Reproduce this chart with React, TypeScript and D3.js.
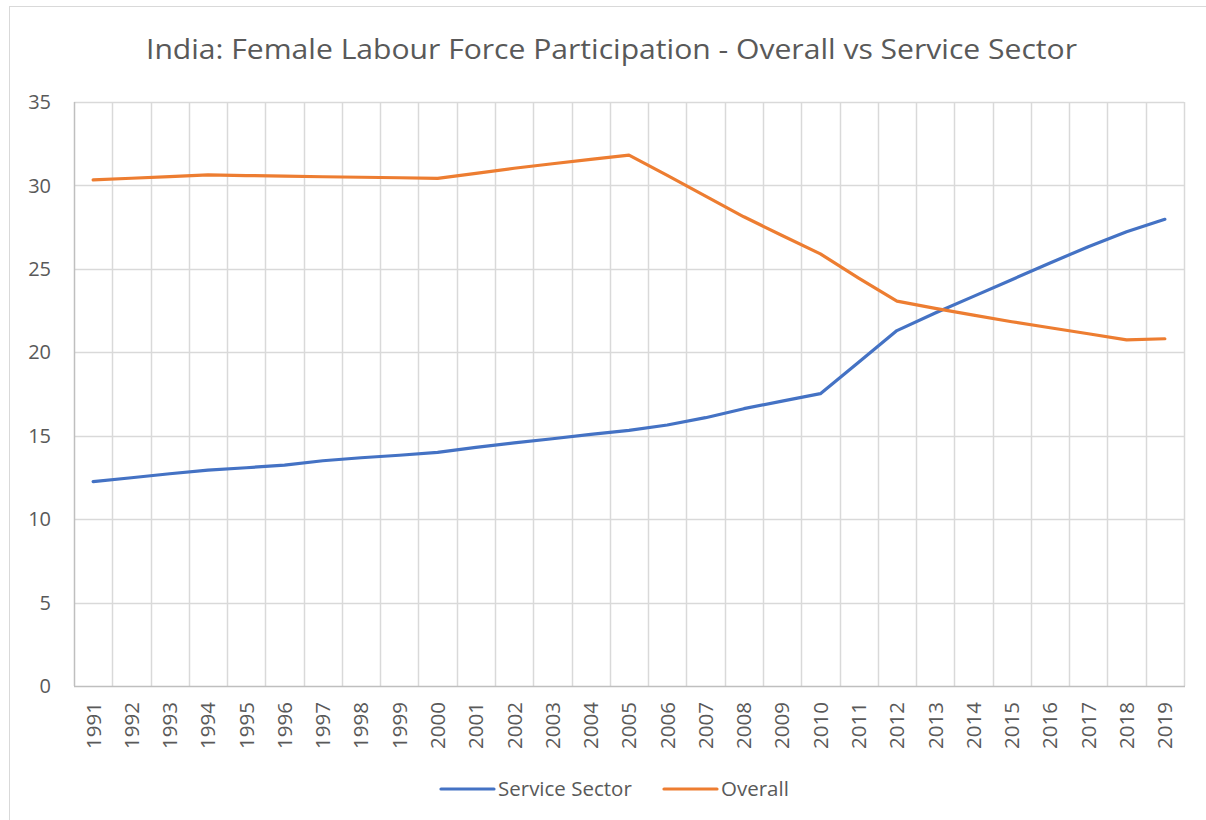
import React, { useEffect, useRef } from "react";
import * as d3 from "d3";

const years = [
  "1991", "1992", "1993", "1994", "1995", "1996", "1997", "1998", "1999", "2000",
  "2001", "2002", "2003", "2004", "2005", "2006", "2007", "2008", "2009", "2010",
  "2011", "2012", "2013", "2014", "2015", "2016", "2017", "2018", "2019",
];

const serviceSector = [
  12.25, 12.48, 12.72, 12.94, 13.08, 13.24, 13.5, 13.68, 13.83, 14.0,
  14.3, 14.57, 14.82, 15.08, 15.32, 15.64, 16.08, 16.62, 17.07, 17.52,
  19.4, 21.3, 22.35, 23.35, 24.35, 25.35, 26.33, 27.22, 27.97,
];

const overall = [
  30.33, 30.43, 30.53, 30.63, 30.59, 30.56, 30.52, 30.49, 30.46, 30.42,
  30.72, 31.03, 31.3, 31.56, 31.82, 30.6, 29.36, 28.12, 27.0, 25.9,
  24.45, 23.07, 22.63, 22.23, 21.83, 21.47, 21.11, 20.74, 20.81,
];

const yTicks = [0, 5, 10, 15, 20, 25, 30, 35];

const seriesNames = ["Service Sector", "Overall"];
const seriesColors = ["#4472C4", "#ED7D31"];

const W = 1206;
const H = 820;
const FONT = "'Open Sans', sans-serif";
const TEXT = "#595959";

const App: React.FC = () => {
  const svgRef = useRef<SVGSVGElement | null>(null);

  useEffect(() => {
    const svg = d3.select(svgRef.current);
    svg.selectAll("*").remove();

    const left = 74;
    const right = 1184;
    const top = 102;
    const bottom = 686;

    const x = d3.scaleBand<string>().domain(years).range([left, right]).padding(0);
    const y = d3.scaleLinear().domain([0, 35]).range([bottom, top]);

    // chart frame
    svg.append("rect")
      .attr("x", 9.5).attr("y", 6.5)
      .attr("width", W).attr("height", H)
      .attr("fill", "#fff")
      .attr("stroke", "#d9d9d9");

    // title
    svg.append("text")
      .attr("x", (146 + 1077) / 2)
      .attr("y", 59)
      .attr("text-anchor", "middle")
      .style("font-family", FONT)
      .style("font-size", "28px")
      .attr("fill", TEXT)
      .attr("textLength", 931)
      .attr("lengthAdjust", "spacingAndGlyphs")
      .text("India: Female Labour Force Participation - Overall vs Service Sector");

    // horizontal gridlines
    svg.append("g")
      .selectAll("line")
      .data(yTicks.filter(t => t > 0))
      .join("line")
      .attr("x1", left).attr("x2", right)
      .attr("y1", d => Math.round(y(d)) + 0.5)
      .attr("y2", d => Math.round(y(d)) + 0.5)
      .attr("stroke", "#d9d9d9")
      .attr("stroke-width", 1.5);

    // vertical gridlines at band edges
    svg.append("g")
      .selectAll("line")
      .data(years)
      .join("line")
      .attr("x1", (d, i) => Math.round(left + x.bandwidth() * (i + 1)) + 0.5)
      .attr("x2", (d, i) => Math.round(left + x.bandwidth() * (i + 1)) + 0.5)
      .attr("y1", top).attr("y2", bottom)
      .attr("stroke", "#d9d9d9")
      .attr("stroke-width", 1.5);

    // axis lines
    svg.append("line")
      .attr("x1", left + 0.5).attr("x2", left + 0.5)
      .attr("y1", top).attr("y2", bottom)
      .attr("stroke", "#bfbfbf").attr("stroke-width", 1.5);
    svg.append("line")
      .attr("x1", left).attr("x2", right + 1)
      .attr("y1", bottom + 0.5).attr("y2", bottom + 0.5)
      .attr("stroke", "#bfbfbf").attr("stroke-width", 1.5);

    // y labels
    svg.append("g")
      .selectAll("text")
      .data(yTicks)
      .join("text")
      .attr("x", 51)
      .attr("y", d => y(d))
      .attr("dy", "0.36em")
      .attr("text-anchor", "end")
      .style("font-family", FONT)
      .style("font-size", "20px")
      .attr("fill", TEXT)
      .text(d => d);

    // x labels (rotated)
    svg.append("g")
      .selectAll("text")
      .data(years)
      .join("text")
      .attr("transform", d => `translate(${x(d)! + x.bandwidth() / 2}, 702) rotate(-90)`)
      .attr("dy", "0.36em")
      .attr("text-anchor", "end")
      .style("font-family", FONT)
      .style("font-size", "20.5px")
      .attr("fill", TEXT)
      .text(d => d);

    // lines
    const line = d3.line<number>()
      .x((d, i) => x(years[i])! + x.bandwidth() / 2)
      .y(d => y(d));

    [serviceSector, overall].forEach((vals, k) => {
      svg.append("path")
        .datum(vals)
        .attr("d", line)
        .attr("fill", "none")
        .attr("stroke", seriesColors[k])
        .attr("stroke-width", 3.2)
        .attr("stroke-linejoin", "round")
        .attr("stroke-linecap", "round");
    });

    // legend
    const legendItems = [
      { x1: 441, x2: 494, tx: 498 },
      { x1: 664, x2: 717, tx: 721 },
    ];
    legendItems.forEach((it, k) => {
      svg.append("line")
        .attr("x1", it.x1).attr("x2", it.x2)
        .attr("y1", 789).attr("y2", 789)
        .attr("stroke", seriesColors[k])
        .attr("stroke-width", 3.2)
        .attr("stroke-linecap", "round");
      svg.append("text")
        .attr("x", it.tx)
        .attr("y", 789)
        .attr("dy", "0.36em")
        .style("font-family", FONT)
        .style("font-size", "20.5px")
        .attr("fill", TEXT)
        .text(seriesNames[k]);
    });
  }, []);

  return (
    <div style={{ position: "absolute", left: 0, top: 0 }}>
      <svg ref={svgRef} width={W} height={H} style={{ display: "block" }} />
    </div>
  );
};

export default App;
